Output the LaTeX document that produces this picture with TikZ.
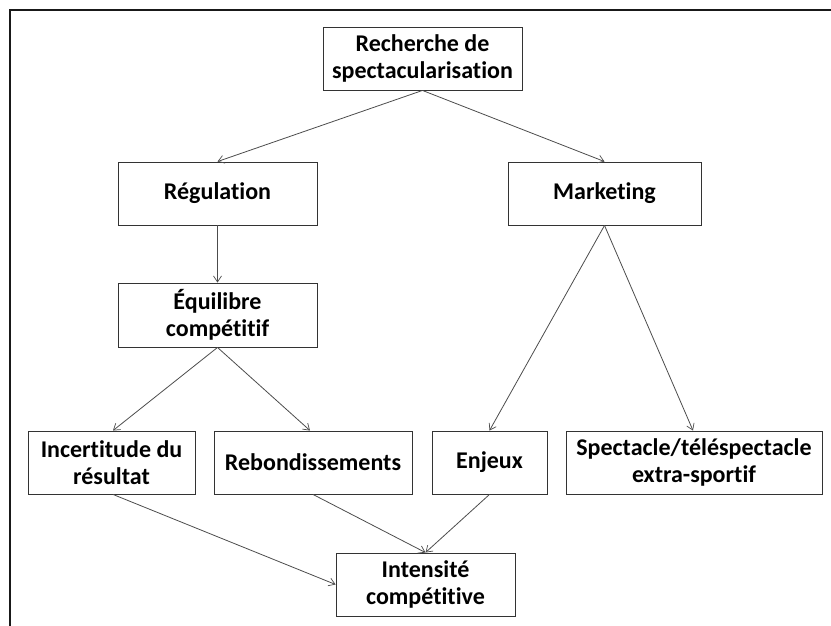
\documentclass[tikz,border=0pt]{standalone}
\usepackage{fontspec}
\setmainfont[Ligatures=CommonOff]{Carlito}
\usetikzlibrary{arrows.meta}
\begin{document}
\begin{tikzpicture}[x=1pt,y=-1pt,
  box/.style={draw=black!80,line width=0.9pt,fill=white,inner sep=0pt,align=center,
    font=\fontsize{24}{27}\selectfont\bfseries},
  conn/.style={draw=black!70,line width=0.8pt,-{Straight Barb[length=6pt,width=8pt,line width=0.7pt]}}]
\useasboundingbox (0,0) rectangle (831,626);
\draw[line width=2pt,black!90] (10,626) -- (10,10) -- (831,10);
\node[box,minimum width=199pt,minimum height=63pt] (rech) at (422.5,58.5) {Recherche de\\spectacularisation};
\node[box,minimum width=199pt,minimum height=63pt] (reg) at (217.5,193.5) {Régulation};
\node[box,minimum width=193pt,minimum height=63pt] (mkt) at (604.5,193.5) {Marketing};
\node[box,minimum width=199pt,minimum height=64pt] (equi) at (217.5,315) {Équilibre\\compétitif};
\node[box,minimum width=167pt,minimum height=63pt] (inc) at (111.5,462.5) {Incertitude du\\résultat};
\node[box,minimum width=198pt,minimum height=63pt] (reb) at (313,462.5) {Rebondissements};
\node[box,minimum width=115pt,minimum height=63pt] (enj) at (489.5,462.5) {Enjeux};
\node[box,minimum width=256pt,minimum height=63pt] (spec) at (694,462.5) {Spectacle/téléspectacle\\extra-sportif};
\node[box,minimum width=179pt,minimum height=63pt] (int) at (425.5,584.5) {Intensité\\compétitive};
\draw[conn] (rech.south) -- (reg.north);
\draw[conn] (rech.south) -- (mkt.north);
\draw[conn] (reg.south) -- (equi.north);
\draw[conn] (mkt.south) -- (enj.north);
\draw[conn] (mkt.south) -- ([xshift=-1pt]spec.north);
\draw[conn] (equi.south) -- ([xshift=1.5pt]inc.north);
\draw[conn] (equi.south) -- ([xshift=-3pt]reb.north);
\draw[conn] ([xshift=1.5pt]inc.south) -- (int.west);
\draw[conn] (reb.south) -- (int.north);
\draw[conn] (enj.south) -- (int.north);
\end{tikzpicture}
\end{document}
